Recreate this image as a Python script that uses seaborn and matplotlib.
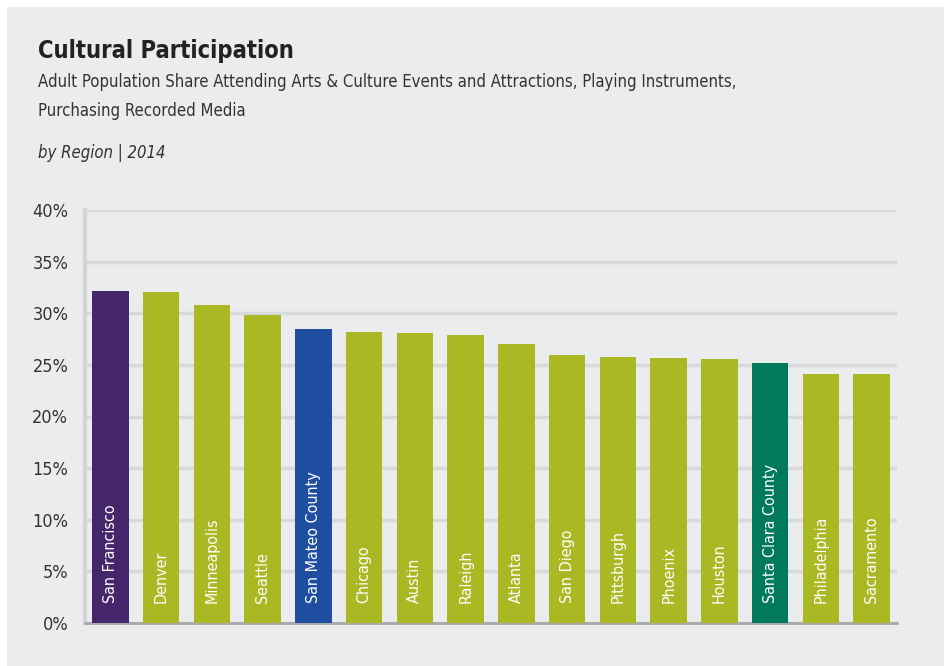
import matplotlib
matplotlib.use("Agg")
from matplotlib import pyplot as plt
from matplotlib.patches import Rectangle
import pandas as pd
import seaborn as sns

# data
regions = ["San Francisco", "Denver", "Minneapolis", "Seattle", "San Mateo County",
           "Chicago", "Austin", "Raleigh", "Atlanta", "San Diego", "Pittsburgh",
           "Phoenix", "Houston", "Santa Clara County", "Philadelphia", "Sacramento"]
share = [32.2, 32.1, 30.8, 29.8, 28.5, 28.2, 28.1, 27.9, 27.0, 26.0, 25.8,
         25.7, 25.6, 25.2, 24.1, 24.1]
yticks = [0, 5, 10, 15, 20, 25, 30, 35, 40]

highlight = {"San Francisco": "#46266A", "San Mateo County": "#1F4EA0",
             "Santa Clara County": "#007A5A"}
palette = {r: highlight.get(r, "#A9B823") for r in regions}

df = pd.DataFrame({"region": regions, "share": share})

sns.set_style("white")
# DejaVu Sans Condensed is the closest narrow face installed
plt.rcParams["font.family"] = ["DejaVu Sans"]
plt.rcParams["font.stretch"] = "condensed"

bg = "#EBECEE"
fig = plt.figure(figsize=(9.44, 6.66), dpi=100)
fig.patch.set_facecolor("white")
fig.add_artist(Rectangle((7 / 944, 0), 1, 1 - 7 / 666, transform=fig.transFigure,
                         facecolor=bg, edgecolor="none", zorder=-10))

ax = fig.add_axes([85 / 944, 1 - 623 / 666, 812 / 944, 413 / 666])
ax.set_facecolor(bg)

sns.barplot(data=df, x="region", y="share", hue="region", palette=palette,
            order=regions, width=0.72, saturation=1, legend=False, ax=ax,
            linewidth=0, edgecolor="none", zorder=3)

# labels inside the bars
for i, r in enumerate(regions):
    ax.text(i, 1.9, r, rotation=90, ha="center", va="bottom", color="white",
            fontsize=11.5, zorder=4)

ax.set_xlim(-0.5, len(regions) - 0.5)
ax.set_ylim(0, 40)
ax.set_yticks(yticks)
ax.set_yticklabels([f"{t}%" for t in yticks], fontsize=13, color="#333333")
ax.set_xticks([])
ax.set_xlabel("")
ax.set_ylabel("")
ax.tick_params(axis="y", length=0, pad=12)
ax.yaxis.grid(True, color="#D8D9DB", linewidth=2.5, zorder=0)
ax.set_axisbelow(True)

for side in ["top", "right"]:
    ax.spines[side].set_visible(False)
ax.spines["left"].set_color("#D3D4D6")
ax.spines["left"].set_linewidth(3)
ax.spines["bottom"].set_color("#A8A9AB")
ax.spines["bottom"].set_linewidth(2)

# titles
fig.text(38 / 944, 1 - 58 / 666, "Cultural Participation", fontsize=17,
         fontweight="bold", color="#222222", va="baseline")
fig.text(38 / 944, 1 - 87 / 666,
         "Adult Population Share Attending Arts & Culture Events and Attractions, Playing Instruments,",
         fontsize=12, color="#333333", va="baseline")
fig.text(38 / 944, 1 - 116 / 666, "Purchasing Recorded Media", fontsize=12,
         color="#333333", va="baseline")
fig.text(38 / 944, 1 - 158 / 666, "by Region | 2014", fontsize=12, style="italic",
         color="#333333", va="baseline")

fig.savefig("out.png", dpi=100, facecolor=fig.get_facecolor())
